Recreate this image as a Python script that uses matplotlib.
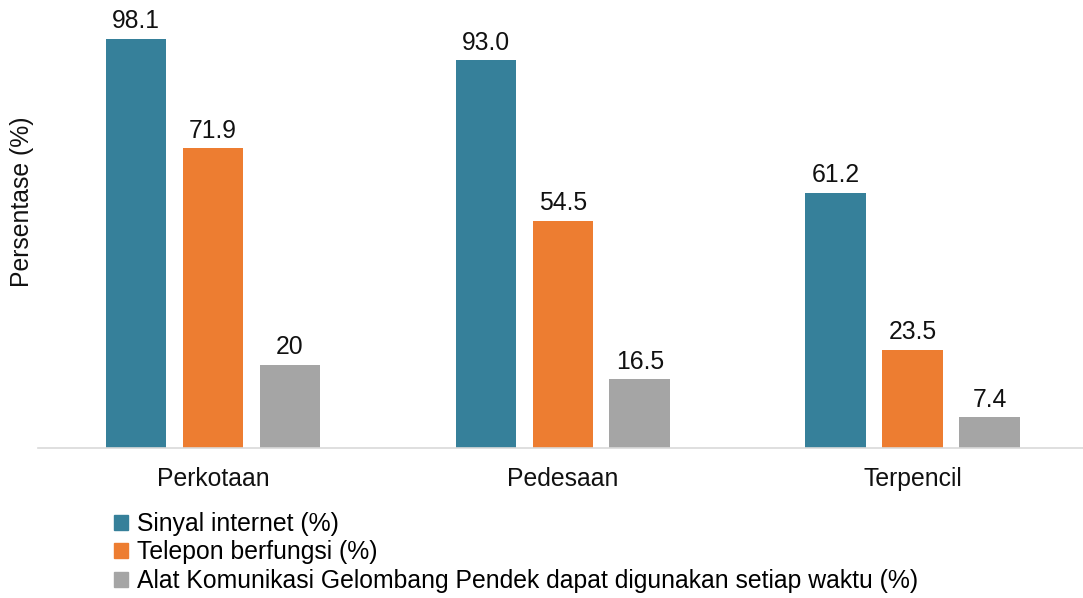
import numpy as np
import matplotlib
matplotlib.use("Agg")
from matplotlib import pyplot as plt
from matplotlib.patches import Patch

plt.rcParams['font.family'] = ['Liberation Sans', 'DejaVu Sans']

categories = ['Perkotaan', 'Pedesaan', 'Terpencil']
series_names = ['Sinyal internet (%)', 'Telepon berfungsi (%)',
                'Alat Komunikasi Gelombang Pendek dapat digunakan setiap waktu (%)']
sinyal = [98.1, 93.0, 61.2]
telepon = [71.9, 54.5, 23.5]
alat = [20, 16.5, 7.4]
labels = [['98.1', '93.0', '61.2'], ['71.9', '54.5', '23.5'], ['20', '16.5', '7.4']]
colors = ['#36809a', '#ed7d31', '#a5a5a5']

fs = 17.8
fig = plt.figure(figsize=(10.83, 5.98), dpi=100)
ax = fig.add_axes([38/1083, 150/598, 1045/1083, 448/598])

x = np.arange(len(categories))
width = 0.174
step = 0.22
for i, vals in enumerate([sinyal, telepon, alat]):
    bars = ax.bar(x + (i - 1) * step, vals, width, color=colors[i])
    for b, lab in zip(bars, labels[i]):
        ax.annotate(lab, (b.get_x() + b.get_width() / 2, b.get_height()),
                    xytext=(0, 4), textcoords='offset points',
                    ha='center', va='bottom', fontsize=fs, color='#111111')

ax.set_xlim(-0.5, 2.486)
ax.set_ylim(0, 107.4)
ax.set_xticks(x)
ax.set_xticklabels(categories, fontsize=fs, color='#111111')
ax.tick_params(axis='x', length=0, pad=14)
ax.set_yticks([])
for s in ['top', 'right', 'left']:
    ax.spines[s].set_visible(False)
ax.spines['bottom'].set_color('#d9d9d9')
ax.spines['bottom'].set_linewidth(1.2)

fig.text(22/1083, 1 - 202/598, 'Persentase (%)', rotation=90, ha='center', va='center',
         fontsize=fs, color='#111111')

handles = [Patch(color=c, label=n) for c, n in zip(colors, series_names)]
fig.legend(handles=handles, loc='upper left', bbox_to_anchor=(114/1083, 1 - 512/598),
           frameon=False, fontsize=fs, handlelength=0.55, handleheight=0.55,
           handletextpad=0.4, labelspacing=0.18, borderaxespad=0, borderpad=0)

fig.savefig('out.png', dpi=100)
